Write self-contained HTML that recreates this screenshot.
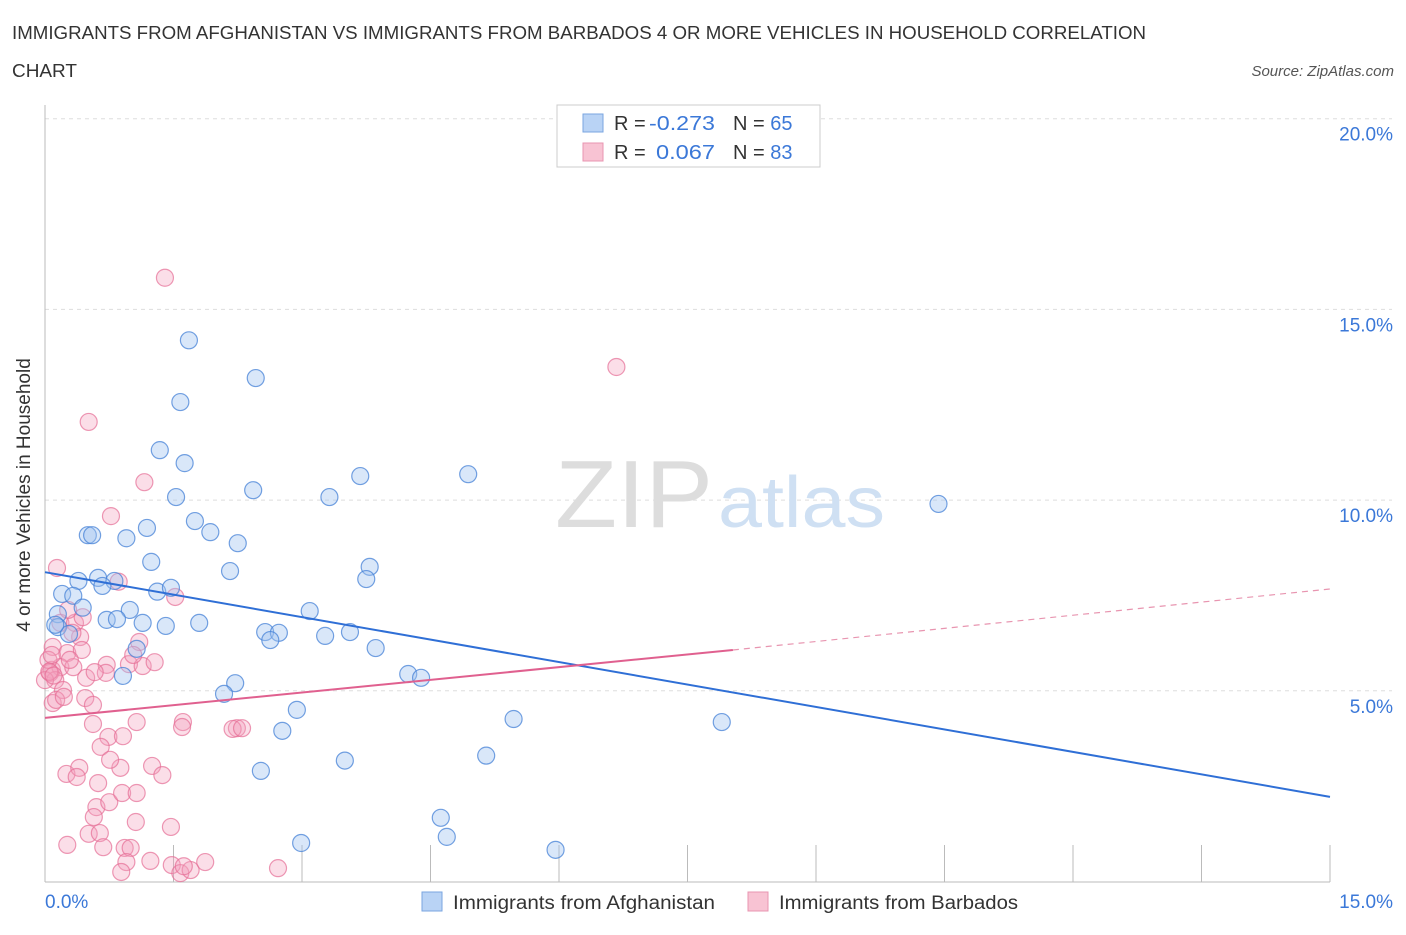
<!DOCTYPE html>
<html><head><meta charset="utf-8">
<style>
body{margin:0;background:#fff;font-family:"Liberation Sans",sans-serif;}
svg text{font-family:"Liberation Sans",sans-serif;}
</style></head>
<body>
<svg width="1406" height="930" viewBox="0 0 1406 930">
<text x="12" y="39" font-size="18" fill="#333" textLength="1134" lengthAdjust="spacingAndGlyphs">IMMIGRANTS FROM AFGHANISTAN VS IMMIGRANTS FROM BARBADOS 4 OR MORE VEHICLES IN HOUSEHOLD CORRELATION</text>
<text x="12" y="77" font-size="18" fill="#333" textLength="65" lengthAdjust="spacingAndGlyphs">CHART</text>
<text x="1394" y="76" font-size="15" fill="#555" font-style="italic" text-anchor="end">Source: ZipAtlas.com</text>
<g id="grid"></g>
<text x="555" y="527" font-size="96" fill="#ddd" font-family="Liberation Serif" textLength="158" lengthAdjust="spacingAndGlyphs">ZIP</text>
<text x="718" y="527" font-size="72" fill="#cfe0f3" textLength="167" lengthAdjust="spacingAndGlyphs">atlas</text>
<g id="axes"></g>
<g id="pts"></g>
<g id="lines"></g>
<text x="30" y="495" font-size="19" fill="#333" text-anchor="middle" transform="rotate(-90 30 495)">4 or more Vehicles in Household</text>
<text x="45" y="908" font-size="19" fill="#3b78d8">0.0%</text>
<text x="1393" y="908" font-size="19" fill="#3b78d8" text-anchor="end">15.0%</text>
<g>
<rect x="557" y="105" width="263" height="62" fill="#fff" stroke="#ccc"/>
<rect x="583" y="114" width="20" height="18" fill="#b9d3f5" stroke="#7aa6e0"/>
<rect x="583" y="143" width="20" height="18" fill="#f8c3d3" stroke="#e895b0"/>
<text x="614" y="130" font-size="20" fill="#333">R = </text>
<text x="649" y="130" font-size="20" fill="#3b78d8" textLength="66" lengthAdjust="spacingAndGlyphs">-0.273</text>
<text x="733" y="130" font-size="20" fill="#333">N = <tspan fill="#3b78d8">65</tspan></text>
<text x="614" y="159" font-size="20" fill="#333">R = </text>
<text x="656" y="159" font-size="20" fill="#3b78d8" textLength="59" lengthAdjust="spacingAndGlyphs">0.067</text>
<text x="733" y="159" font-size="20" fill="#333">N = <tspan fill="#3b78d8">83</tspan></text>
</g>
<g>
<rect x="422" y="892" width="20" height="19" fill="#b9d3f5" stroke="#7aa6e0"/>
<text x="453" y="909" font-size="19" fill="#333" textLength="262" lengthAdjust="spacingAndGlyphs">Immigrants from Afghanistan</text>
</g>
<g>
<rect x="748" y="892" width="20" height="19" fill="#f8c3d3" stroke="#e895b0"/>
<text x="779" y="909" font-size="19" fill="#333" textLength="239" lengthAdjust="spacingAndGlyphs">Immigrants from Barbados</text>
</g>
</svg>
<script>
const yTicks=[5,10,15,20];
const yTickLabels=["5.0%","10.0%","15.0%","20.0%"];
const xTicks=[0,1.5,3,4.5,6,7.5,9,10.5,12,13.5,15];
const blueX=[1.68,1.58,2.46,1.34,1.63,1.53,2.43,3.32,3.68,4.94,10.43,1.75,1.93,1.19,0.95,0.50,0.55,2.25,1.24,2.16,3.79,3.75,0.62,0.39,0.81,0.67,1.31,1.47,0.20,0.33,0.99,0.44,3.09,0.15,0.72,0.84,1.14,1.41,1.80,0.15,0.28,2.57,2.73,2.63,3.27,3.56,3.86,1.07,0.91,4.24,4.39,2.22,2.09,2.94,5.47,7.90,2.77,5.15,3.50,2.52,4.62,4.69,2.99,5.96,0.12];
const blueY=[14.19,12.57,13.20,11.31,10.97,10.08,10.26,10.08,10.63,10.68,9.90,9.45,9.16,9.27,9.00,9.08,9.08,8.87,8.38,8.14,8.25,7.93,7.96,7.88,7.88,7.75,7.60,7.70,7.54,7.49,7.12,7.18,7.09,7.01,6.86,6.88,6.78,6.70,6.78,6.67,6.49,6.54,6.52,6.33,6.44,6.54,6.12,6.10,5.39,5.44,5.34,5.20,4.92,4.50,4.26,4.18,3.95,3.30,3.17,2.90,1.67,1.17,1.01,0.83,6.73];
const pinkX=[0.77,0.14,0.86,1.52,0.18,0.35,0.44,0.41,0.32,0.09,0.26,0.43,0.08,0.18,0.33,0.06,0.12,0.48,0.72,0.71,0.98,1.14,1.28,1.10,0.09,0.21,0.47,0.56,0.56,1.07,1.61,1.60,2.24,2.19,2.30,0.74,0.91,0.65,0.25,0.40,0.37,0.62,0.88,1.25,1.37,0.60,0.75,0.90,1.07,0.57,1.06,1.47,0.26,0.51,0.64,0.68,0.93,1.00,0.95,1.23,0.89,1.48,1.58,1.70,1.87,2.72,0.51,1.40,6.67,1.16,0.04,0.13,0.29,0.00,0.22,1.62,0.58,0.27,1.03,0.08,0.76,0.05,0.10];
const pinkY=[9.58,8.22,7.86,7.46,6.78,6.78,6.93,6.41,6.52,6.15,5.99,6.07,5.55,5.62,5.62,5.47,5.28,5.34,5.68,5.47,5.70,5.65,5.75,6.28,4.68,5.02,4.81,4.63,4.13,4.18,4.18,4.05,4.02,4.00,4.02,3.79,3.81,3.53,2.82,2.98,2.74,2.58,2.98,3.03,2.79,1.95,2.08,2.32,2.32,1.69,1.56,1.43,0.96,1.25,1.27,0.90,0.88,0.88,0.51,0.54,0.25,0.43,0.22,0.30,0.51,0.35,12.05,15.83,13.49,10.47,5.81,4.76,5.81,5.28,4.84,0.40,5.49,7.12,5.94,5.94,3.19,5.50,5.40];
const blueTrend=[[0,8.11],[15,2.22]];
const pinkTrendSolid=[[0,4.29],[8.03,6.07]];
const pinkTrendDash=[[8.03,6.07],[15,7.67]];
const NS="http://www.w3.org/2000/svg";
const sx=v=>45+v*(1285/15);
const sy=v=>881.5-v*38.14;
function mk(tag,attrs,parent){const e=document.createElementNS(NS,tag);for(const k in attrs)e.setAttribute(k,attrs[k]);parent.appendChild(e);return e;}
const grid=document.getElementById('grid'),axes=document.getElementById('axes'),pts=document.getElementById('pts'),lines=document.getElementById('lines');
yTicks.forEach((t,i)=>{
 const l=mk('line',{x1:45,x2:1392,y1:sy(t),y2:sy(t),stroke:'#ddd','stroke-dasharray':'4,4'},grid);
 
 
 const tx=mk('text',{x:1393,y:sy(t)+22,'font-size':19,fill:'#3b78d8','text-anchor':'end'},grid);
 tx.textContent=yTickLabels[i];
 
 
});
const ya=mk('line',{x1:45,x2:45,y1:105,y2:882,stroke:'#bbb'},axes);


const xa=mk('line',{x1:45,x2:1330,y1:882,y2:882,stroke:'#bbb'},axes);


xTicks.forEach(t=>{
 const l=mk('line',{x1:sx(t),x2:sx(t),y1:845,y2:882,stroke:'#bbb'},axes);
 
 
});
pinkX.forEach((x,i)=>{
 const c=mk('circle',{cx:sx(x),cy:sy(pinkY[i]),r:8.5,fill:'rgba(244,160,188,0.35)',stroke:'rgba(230,110,150,0.7)','stroke-width':1.2},pts);
 
 
});
blueX.forEach((x,i)=>{
 const c=mk('circle',{cx:sx(x),cy:sy(blueY[i]),r:8.5,fill:'rgba(160,196,240,0.4)',stroke:'rgba(70,130,215,0.75)','stroke-width':1.2},pts);
 
 
});
const bl=mk('line',{x1:sx(blueTrend[0][0]),y1:sy(blueTrend[0][1]),x2:sx(blueTrend[1][0]),y2:sy(blueTrend[1][1]),stroke:'#2f6fd6','stroke-width':2},lines);


const pl=mk('line',{x1:sx(pinkTrendSolid[0][0]),y1:sy(pinkTrendSolid[0][1]),x2:sx(pinkTrendSolid[1][0]),y2:sy(pinkTrendSolid[1][1]),stroke:'#e0608f','stroke-width':2},lines);


const pd=mk('line',{x1:sx(pinkTrendDash[0][0]),y1:sy(pinkTrendDash[0][1]),x2:sx(pinkTrendDash[1][0]),y2:sy(pinkTrendDash[1][1]),stroke:'#e895b0','stroke-width':1.2,'stroke-dasharray':'6,5'},lines);


</script>
</body></html>
